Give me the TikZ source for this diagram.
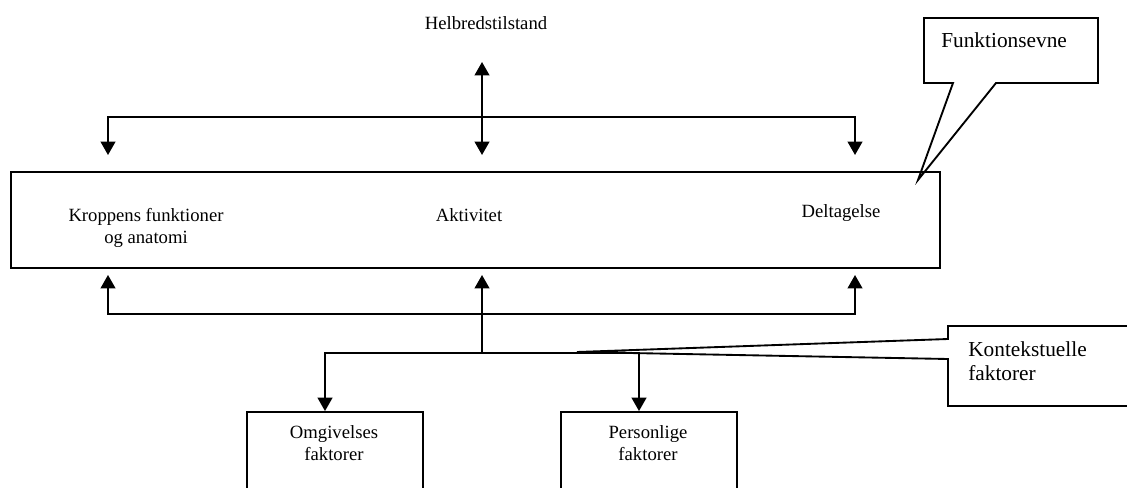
\documentclass[tikz,border=0pt]{standalone}
\usepackage{fontspec}
\setmainfont{Liberation Serif}
\usetikzlibrary{arrows.meta, positioning}
\tikzset{
  boxframe/.style = {draw, line width=1.4pt, inner sep=0pt},
  lbl/.style      = {inner sep=0pt, align=center, font=\fontsize{14}{16}\selectfont},
  clbl/.style     = {inner sep=0pt, align=left, font=\fontsize{16}{18}\selectfont},
  callout/.style  = {draw, line width=1.4pt},
  arr/.style      = {-{Triangle[length=10pt,width=11pt]}, line width=1.4pt},
  darr/.style     = {{Triangle[length=10pt,width=11pt]}-{Triangle[length=10pt,width=11pt]},
                     line width=1.4pt}
}

\begin{document}
\begin{tikzpicture}[x=0.75pt, y=-0.75pt]
  \useasboundingbox (0,0) rectangle (1127,488);

  %% ── Boxes ─────────────────────────────────────────────────────
  \node[boxframe, minimum width=696.75pt, minimum height=72pt] (func) at (475.5,220) {};
  \node[boxframe, minimum width=132pt, minimum height=75pt]    (omg)  at (335,462) {};
  \node[boxframe, minimum width=132pt, minimum height=75pt]    (pers) at (649,462) {};

  %% ── Labels ────────────────────────────────────────────────────
  \node[lbl, anchor=base] (helb)  at (486,30)  {Helbredstilstand};
  \node[lbl]              (kropp) at (146,228) {Kroppens funktioner\\og anatomi};
  \node[lbl, anchor=base] (aktiv) at (469,222) {Aktivitet};
  \node[lbl, anchor=base] (delt)  at (841,218) {Deltagelse};
  \node[lbl]              (omgT)  at (334,443) {Omgivelses\\faktorer};
  \node[lbl]              (persT) at (648,443) {Personlige\\faktorer};

  %% ── Callouts ──────────────────────────────────────────────────
  \draw[callout] (924,18) -- (1098,18) -- (1098,83) -- (996,83)
    -- (918,180) -- (953,83) -- (924,83) -- cycle;
  \node[clbl, anchor=base west] (fev) at (941,48) {Funktionsevne};
  \draw[callout] (948,359) -- (577,352) -- (948,339) -- (948,326)
    -- (1140,326) -- (1140,406) -- (948,406) -- cycle;
  \node[clbl, anchor=west] (kon) at (968,361) {Kontekstuelle\\faktorer};

  %% ── Arrow ends ────────────────────────────────────────────────
  \coordinate (hTop)   at (482,62);
  \coordinate (aTop)   at (482,155);
  \coordinate (kTop)   at (108,155);
  \coordinate (dTop)   at (855,155);
  \coordinate (topBar) at (482,117);
  \coordinate (kBot)   at (108,275);
  \coordinate (aBot)   at (482,275);
  \coordinate (dBot)   at (855,275);
  \coordinate (botBar) at (482,314);
  \coordinate (split)  at (482,353);

  %% ── Arrows ────────────────────────────────────────────────────
  \draw[darr] (aTop) -- (hTop);
  \draw[darr] (kTop) |- (topBar) -| (dTop);
  \draw[darr] (kBot) |- (botBar) -| (dBot);
  \draw[arr]  (split) -- (aBot);
  \draw[arr]  (split) -| ([xshift=-7.5pt]omg.north);
  \draw[arr]  (split) -| ([xshift=-7.5pt]pers.north);

\end{tikzpicture}
\end{document}
